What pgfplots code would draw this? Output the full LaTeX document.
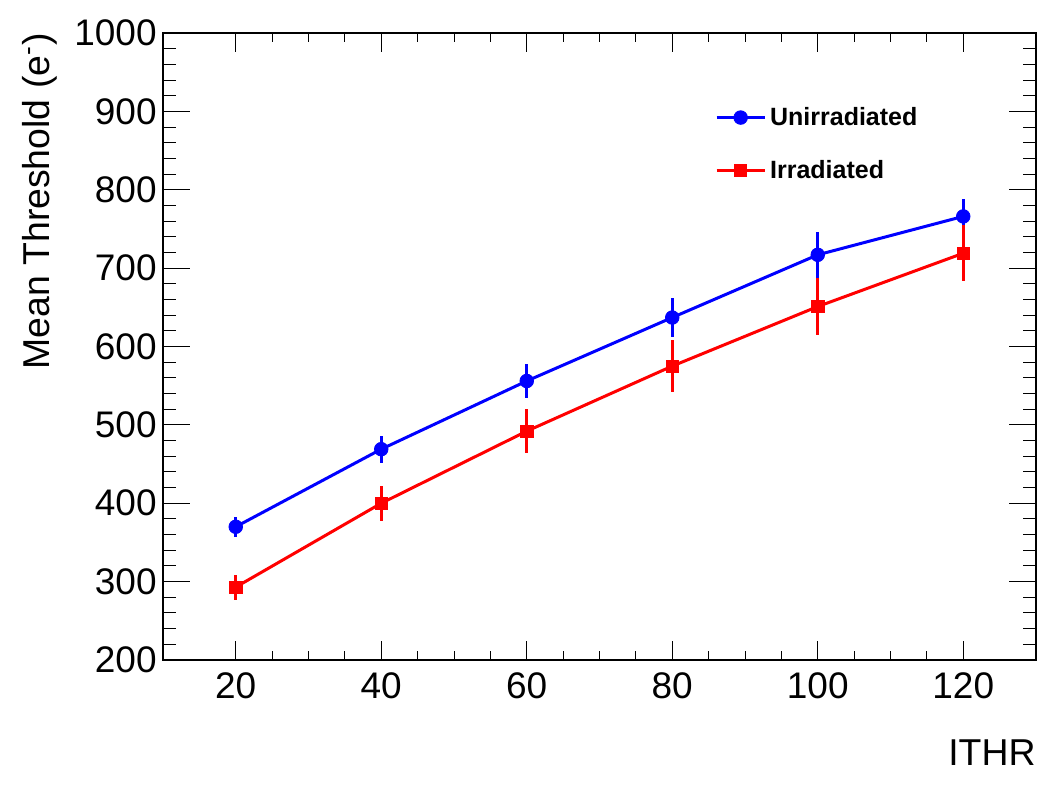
\documentclass[border=0pt]{standalone}
\usepackage{fontspec}
\setmainfont{Liberation Sans}
\usepackage{pgfplots}
\pgfplotsset{compat=1.18}
\begin{document}
\begin{tikzpicture}
\path[use as bounding box] (0,0) rectangle (528.5pt,392pt);
\begin{axis}[
  at={(81.5pt,62pt)}, anchor=south west,
  scale only axis, width=436.5pt, height=313.5pt,
  xmin=10, xmax=130, ymin=200, ymax=1000,
  xtick={20,40,...,120}, ytick={200,300,...,1000},
  minor x tick num=3, minor y tick num=4,
  tick align=inside,
  axis line style={line width=1pt},
  xtick style={line width=0.5pt, black, /pgfplots/major tick length=9.5pt, /pgfplots/minor tick length=4.5pt},
  ytick style={line width=0.5pt, black, /pgfplots/major tick length=13.5pt, /pgfplots/minor tick length=6.5pt},
  /pgf/number format/assume math mode=true,
  /pgf/number format/1000 sep={},
  ticklabel style={font=\fontsize{18.5}{21}\selectfont},
  xticklabel style={inner sep=0pt, yshift=-6pt},
  yticklabel style={inner sep=0pt, xshift=-3pt},
  xlabel={ITHR},
  ylabel={Mean Threshold (e\textsuperscript{-})},
  label style={font=\fontsize{18.7}{21}\selectfont},
  xlabel style={at={(axis description cs:1,0)}, anchor=base east, inner sep=0pt, yshift=-52.5pt},
  ylabel style={at={(axis description cs:-0.121,1)}, anchor=south east, inner sep=0pt},
  legend style={at={(axis description cs:0.632,0.889)}, anchor=north west, draw=none, fill=none,
    font=\fontsize{12.5}{15}\bfseries, row sep=12pt, inner sep=0pt,
    nodes={inner sep=2pt}},
  legend cell align=left,
  legend image code/.code={\draw[#1, mark repeat=2, mark phase=2] plot coordinates {(0pt,0pt) (12pt,0pt) (24pt,0pt)};},
]
\addplot[blue, line width=1.5pt, mark=*, mark size=3.4pt, mark options={solid, line width=0.4pt},
  error bars/.cd, y dir=both, y explicit, error mark=none, error bar style={line width=1.5pt, blue}]
  coordinates {
  (20,370) +- (0,13)
  (40,469) +- (0,17)
  (60,556) +- (0,22)
  (80,637) +- (0,25)
  (100,717) +- (0,29)
  (120,766) +- (0,22)
};
\addlegendentry{Unirradiated}
\addplot[red, line width=1.5pt, mark=square*, mark size=3.1pt, mark options={solid, line width=0.4pt},
  error bars/.cd, y dir=both, y explicit, error mark=none, error bar style={line width=1.5pt, red}]
  coordinates {
  (20,293) +- (0,16)
  (40,400) +- (0,22)
  (60,492) +- (0,28)
  (80,575) +- (0,33)
  (100,651) +- (0,36)
  (120,719) +- (0,36)
};
\addlegendentry{Irradiated}
\end{axis}
\end{tikzpicture}
\end{document}
